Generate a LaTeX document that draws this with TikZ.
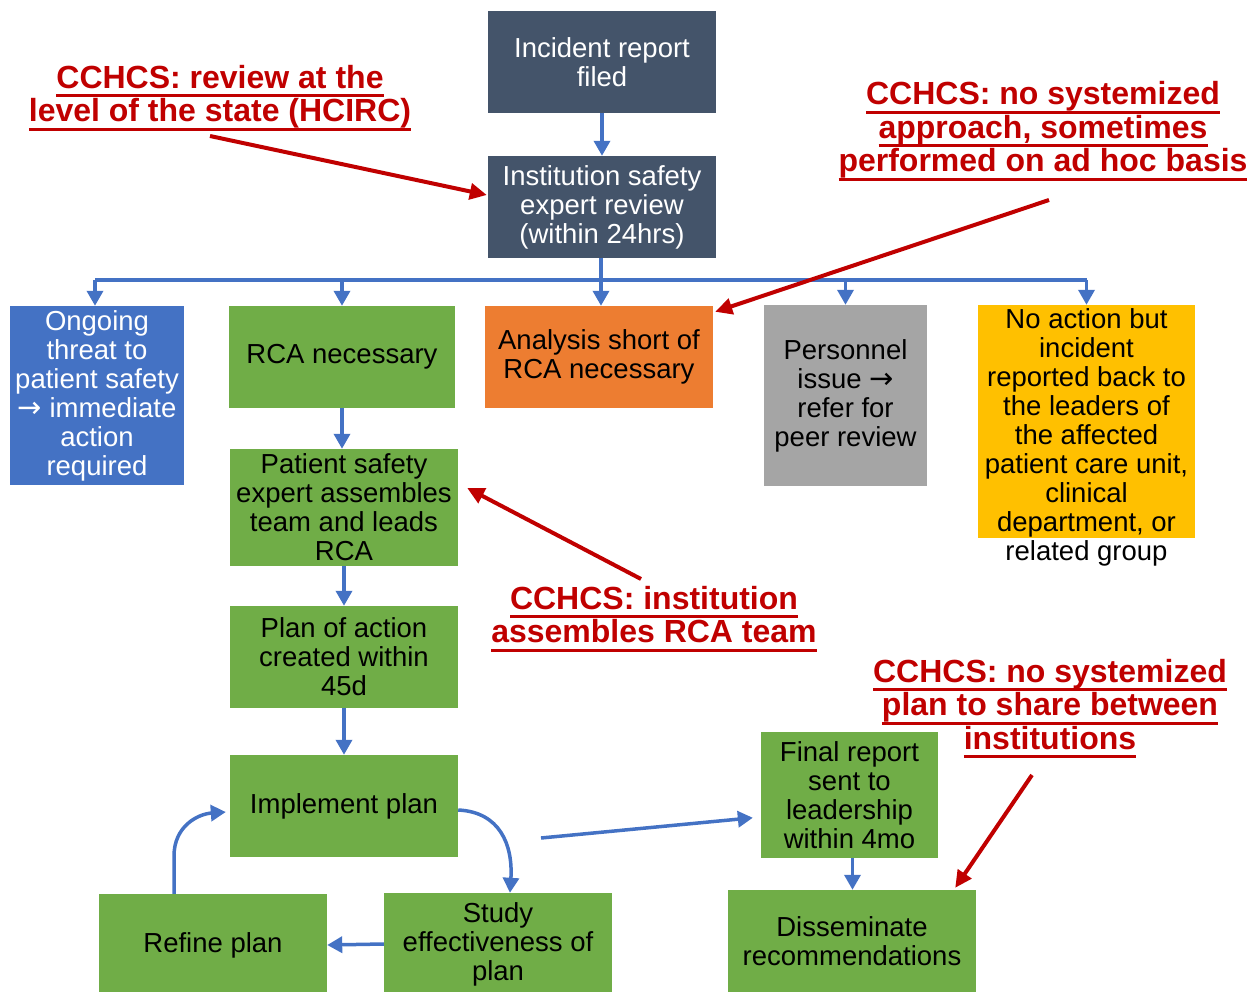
\documentclass[tikz,border=0pt]{standalone}
\usepackage{fontspec}
\setmainfont{Liberation Sans}
\newfontfamily\symfont{DejaVu Sans}
\usetikzlibrary{arrows.meta}

\definecolor{slate}{HTML}{44546A}
\definecolor{flowblue}{HTML}{4472C4}
\definecolor{flowgreen}{HTML}{70AD47}
\definecolor{floworange}{HTML}{ED7D31}
\definecolor{flowgrey}{HTML}{A5A5A5}
\definecolor{flowyellow}{HTML}{FFC000}
\definecolor{cchcs}{HTML}{C00000}

% underlined annotation line
\newcommand\redul[1]{\setbox0\hbox{#1}\leavevmode\rlap{\vrule height -6pt depth 9pt width \wd0}\box0}
\newcommand\rarr{{\symfont\fontsize{29}{29}\selectfont →}}

\begin{document}
\begin{tikzpicture}[x=1pt,y=-1pt,
  box/.style={rectangle, inner sep=0pt, align=center,
    font=\fontsize{27.5}{29}\selectfont},
  darkbox/.style={box, fill=slate, text=white},
  greenbox/.style={box, fill=flowgreen, text=black},
  note/.style={align=center, text=cchcs, inner sep=0pt,
    font=\bfseries\fontsize{32}{33.5}\selectfont},
  flow/.style={draw=flowblue, line width=3.5pt},
  flowarr/.style={flow, -{Triangle[length=15pt,width=16pt]}},
  callout/.style={draw=cchcs, line width=4pt, -{Triangle[length=17pt,width=16pt]}}]

\useasboundingbox (0,0) rectangle (1255,992);

% main chain
\node[darkbox, minimum width=228pt, minimum height=102pt] (incident) at (602,62) {Incident report\\filed};
\node[darkbox, minimum width=228pt, minimum height=102pt] (inst) at (602,207) {Institution safety\\expert review\\(within 24hrs)};

% outcome boxes
\node[box, fill=flowblue, text=white, minimum width=174pt, minimum height=179pt] (ongoing) at (97,395.5)
  {Ongoing\\threat to\\patient safety\\\rarr{} immediate\\action\\required};
\node[greenbox, minimum width=226pt, minimum height=102pt] (rca) at (342,357) {RCA necessary};
\node[box, fill=floworange, text=black, minimum width=228pt, minimum height=102pt] (analysis) at (599,357)
  {Analysis short of\\RCA necessary};
\node[box, fill=flowgrey, text=black, minimum width=163pt, minimum height=181pt] (personnel) at (845.5,395.5)
  {Personnel\\issue \rarr\\refer for\\peer review};
\node[box, fill=flowyellow, minimum width=217pt, minimum height=233pt] (noaction) at (1086.5,421.5) {};
\node[box, text=black] (noactiontext) at (1086.5,437)
  {No action but\\incident\\reported back to\\the leaders of\\the affected\\patient care unit,\\clinical\\department, or\\related group};

% RCA branch
\node[greenbox, minimum width=228pt, minimum height=117pt] (patient) at (344,507.5)
  {Patient safety\\expert assembles\\team and leads\\RCA};
\node[greenbox, minimum width=228pt, minimum height=102pt] (plan) at (344,657)
  {Plan of action\\created within\\45d};
\node[greenbox, minimum width=228pt, minimum height=102pt] (implement) at (344,806) {Implement plan};
\node[greenbox, minimum width=228pt, minimum height=102pt] (refine) at (213,945) {Refine plan};
\node[greenbox, minimum width=228pt, minimum height=102pt] (study) at (498,944)
  {Study\\effectiveness of\\plan};
\node[greenbox, minimum width=177pt, minimum height=126pt] (final) at (849.5,795)
  {Final report\\sent to\\leadership\\within 4mo};
\node[greenbox, minimum width=248pt, minimum height=102pt] (dissem) at (852,941)
  {Disseminate\\recommendations};

% annotations (base anchor sits on the last line)
\node[note, anchor=base] (noteA) at (220,122)
  {\redul{CCHCS: review at the}\\\redul{level of the state (HCIRC)}};
\node[note, anchor=base] (noteB) at (1043,172)
  {\redul{CCHCS: no systemized}\\\redul{approach, sometimes}\\\redul{performed on ad hoc basis}};
\node[note, anchor=base] (noteC) at (654,642.5)
  {\redul{CCHCS: institution}\\\redul{assembles RCA team}};
\node[note, anchor=base] (noteD) at (1050,749)
  {\redul{CCHCS: no systemized}\\\redul{plan to share between}\\\redul{institutions}};

% flow connectors
\coordinate (bus) at (0,280);
\draw[flowarr] (incident.south) -- (inst.north);
\draw[flow] ([xshift=-2pt]ongoing.north |- bus) -- (noaction.north |- bus);
\draw[flowarr] ([xshift=-1pt]inst.south) -- ([xshift=-1pt]inst.south |- analysis.north);
\draw[flowarr] ([xshift=-2pt]ongoing.north |- bus) -- ([xshift=-2pt]ongoing.north);
\draw[flowarr] (rca.north |- bus) -- (rca.north);
\draw[flowarr] (personnel.north |- bus) -- (personnel.north);
\draw[flowarr] (noaction.north |- bus) -- (noaction.north);
\draw[flowarr] (rca.south) -- (rca.south |- patient.north);
\draw[flowarr] (patient.south) -- (plan.north);
\draw[flowarr] (plan.south) -- (implement.north);
\draw[flowarr] ([yshift=-4pt]implement.east) .. controls (500,812) and (513,845) .. ([xshift=12pt]study.north);
\draw[flowarr] (study.west) -- (refine.east);
\draw[flowarr] ([xshift=-39pt]refine.north) -- (174,856) .. controls (174,826) and (198,814) .. ([xshift=-4pt,yshift=-6pt]implement.west);
\coordinate (handoff) at (541,838);
\draw[flowarr, shorten >=8pt] (handoff) -- ([yshift=-22pt]final.west);
\draw[flowarr] ([xshift=3pt]final.south) -- ([xshift=3pt]final.south |- dissem.north);

% annotation pointers
\coordinate (fromA) at (210,136);
\coordinate (fromB) at (1049,200);
\coordinate (fromC) at (641,579);
\coordinate (fromD) at (1032,775);
\draw[callout] (fromA) -- ([xshift=-1pt,yshift=12pt]inst.west);
\draw[callout] (fromB) -- ([xshift=2pt,yshift=-6pt]analysis.north east);
\draw[callout] (fromC) -- ([xshift=9pt,yshift=19.5pt]patient.east);
\draw[callout] (fromD) -- ([xshift=-21pt,yshift=2pt]dissem.north east);
\end{tikzpicture}
\end{document}
